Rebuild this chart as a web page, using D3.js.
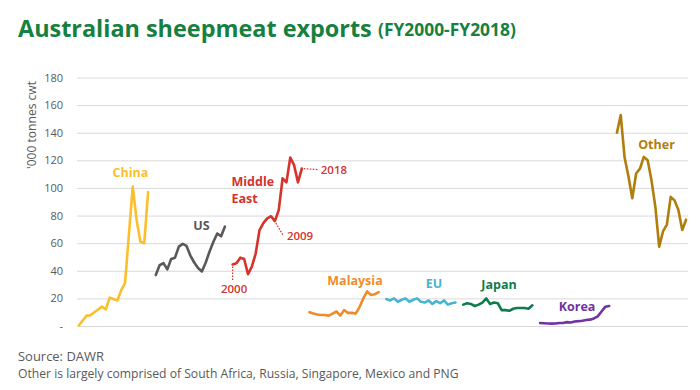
<!DOCTYPE html>
<html><head><meta charset="utf-8">
<script src="https://cdn.jsdelivr.net/npm/d3@7"></script>
<style>body{margin:0;background:#fff}svg{display:block}</style>
</head><body><svg id="c" width="700" height="390"></svg>
<script>
// ---- data ----
const years = ["FY2000","FY2001","FY2002","FY2003","FY2004","FY2005","FY2006","FY2007","FY2008","FY2009",
               "FY2010","FY2011","FY2012","FY2013","FY2014","FY2015","FY2016","FY2017","FY2018"];
const seriesNames = ["China","US","Middle East","Malaysia","EU","Japan","Korea","Other"];
const seriesColors = ["#FDBE2B","#595959","#D5332B","#EE8C2C","#47B4D1","#0E7D4C","#7033A3","#B07E0C"];
const china      = [0.5, 4, 7.5, 7.8, 10, 12, 14, 12, 20.5, 19.5, 18.5, 26, 31, 66, 101, 77, 61, 60, 97];
const us         = [37, 44, 45.5, 41, 48.5, 49.5, 57.5, 59.5, 58, 51, 46, 42, 39.5, 46, 54, 61, 67, 65, 72];
const middleEast = [44.6, 45.5, 49.5, 48.5, 37.5, 43, 52.5, 69.5, 74.5, 78, 79.5, 76, 84, 107, 104, 122, 116.5, 104, 114];
const malaysia   = [10, 9, 8.3, 8, 8, 7.5, 9, 10.5, 7.5, 11.5, 9.5, 9.5, 9, 13.5, 20, 25, 22.5, 23, 24.5];
const eu         = [19.5, 18.5, 20, 17.5, 19, 20, 17.5, 19, 20, 17.5, 17, 18.5, 16, 18, 16.5, 18.5, 15.5, 16.5, 17];
const japan      = [15.5, 16.5, 16, 14.5, 15.5, 17, 20, 16, 17, 16.5, 11.5, 11.5, 11, 12.5, 13, 13, 13, 12.5, 15];
const korea      = [2.2, 2, 1.8, 1.7, 1.8, 2.2, 2.2, 2.8, 2.5, 3.3, 3.5, 3.8, 4.3, 4.6, 5.5, 7, 10.5, 14, 14.5];
const other      = [140, 152.8, 122, 108.5, 92.5, 110.5, 114, 122.5, 120, 105.5, 86.5, 57.5, 68.5, 73.5, 93.5, 91, 84, 69.5, 77];
const yTicks = [0, 20, 40, 60, 80, 100, 120, 140, 160, 180];

const seriesValues = [china, us, middleEast, malaysia, eu, japan, korea, other];

// ---- categories: each series gets its own run of years, separated by one empty slot ----
const catKeys = [];
seriesNames.forEach((s, k) => {
  years.forEach(yr => catKeys.push(s + "|" + yr));
  if (k < seriesNames.length - 1) catKeys.push("gap" + k);
});

const svg = d3.select("#c");
const plotL = 77, plotR = 688, plotT = 77.5, plotB = 326;
const x = d3.scaleBand().domain(catKeys).range([plotL, plotR]).padding(0);
const y = d3.scaleLinear().domain([0, 180]).range([plotB, plotT]);
const cx = key => x(key) + x.bandwidth() / 2;
const font = "'Open Sans', sans-serif";

// shrink/grow a text's font size so its natural width matches a target width
function fitWidth(sel, w) {
  const n = sel.node().getComputedTextLength();
  const fs = parseFloat(sel.style("font-size"));
  sel.style("font-size", (fs * w / n).toFixed(2) + "px");
  return sel;
}

// gridlines
svg.append("g").attr("transform", `translate(${plotL},0)`)
  .call(d3.axisLeft(y).tickValues(yTicks).tickSize(-(plotR - plotL)).tickFormat(""))
  .call(g => g.select(".domain").remove())
  .call(g => g.selectAll("line").attr("stroke", "#d9d9d9").attr("stroke-width", 1));

// tick labels
svg.append("g").attr("transform", `translate(${plotL},0)`)
  .call(d3.axisLeft(y).tickValues(yTicks).tickSize(0).tickPadding(14)
        .tickFormat(d => d === 0 ? "-" : d))
  .call(g => g.select(".domain").remove())
  .call(g => g.selectAll("text").attr("fill", "#595959")
        .style("font-family", font).style("font-size", "11px"));

// y title
fitWidth(svg.append("text").attr("transform", "translate(36,125) rotate(-90)")
  .attr("text-anchor", "middle").attr("fill", "#595959")
  .style("font-family", font).style("font-size", "13px")
  .text("'000 tonnes cwt"), 88);

// lines
const line = d3.line().x(d => cx(d.key)).y(d => y(d.v));
seriesNames.forEach((s, k) => {
  const pts = seriesValues[k].map((v, i) => ({key: s + "|" + years[i], v}));
  svg.append("path").datum(pts).attr("d", line)
    .attr("fill", "none").attr("stroke", seriesColors[k])
    .attr("stroke-width", 2.6).attr("stroke-linejoin", "round").attr("stroke-linecap", "round");
});

// series labels
const seriesLabels = [
  {t: "China", x: 130.5, y: 177, c: 0},
  {t: "US", x: 201.5, y: 230, c: 1},
  {t: "Malaysia", x: 355, y: 284.5, c: 3},
  {t: "EU", x: 434, y: 288, c: 4},
  {t: "Japan", x: 499, y: 288.5, c: 5},
  {t: "Korea", x: 577, y: 311, c: 6},
  {t: "Other", x: 656.5, y: 149, c: 7}
];
seriesLabels.forEach(l => {
  svg.append("text").attr("x", l.x).attr("y", l.y).attr("text-anchor", "middle")
    .attr("fill", seriesColors[l.c]).style("font-family", font)
    .style("font-size", "12.5px").style("font-weight", "700").text(l.t);
});
svg.append("text").attr("x", 231.5).attr("y", 186).attr("fill", seriesColors[2])
  .style("font-family", font).style("font-size", "12.5px").style("font-weight", "700").text("Middle");
svg.append("text").attr("x", 231.5).attr("y", 202.5).attr("fill", seriesColors[2])
  .style("font-family", font).style("font-size", "12.5px").style("font-weight", "700").text("East");

// year annotations on Middle East
const me = k => ({x: cx("Middle East|" + years[k]), y: y(middleEast[k])});
const red = seriesColors[2];
const dotted = (x1, y1, x2, y2) => svg.append("line").attr("x1", x1).attr("y1", y1).attr("x2", x2).attr("y2", y2)
  .attr("stroke", red).attr("stroke-width", 1.3).attr("stroke-dasharray", "1.5,1.5");
const annot = (t, xx, yy, anchor) => svg.append("text").attr("x", xx).attr("y", yy).attr("text-anchor", anchor)
  .attr("fill", red).style("font-family", font).style("font-size", "11.5px").style("font-weight", "600").text(t);
const p0 = me(0);
dotted(p0.x, p0.y + 2, p0.x, p0.y + 17);
annot("2000", p0.x + 1.5, p0.y + 29, "middle");
const p9 = me(11);
dotted(p9.x + 1, p9.y + 2, p9.x + 8, p9.y + 14);
annot("2009", p9.x + 12, p9.y + 19, "start");
const p18 = me(18);
dotted(p18.x + 2, p18.y, p18.x + 16, p18.y + 1);
annot("2018", p18.x + 19, p18.y + 5, "start");

// title
fitWidth(svg.append("text").attr("x", 18).attr("y", 37).attr("fill", "#15803F")
  .style("font-family", font).style("font-size", "27px").style("font-weight", "700")
  .text("Australian sheepmeat exports"), 354);
fitWidth(svg.append("text").attr("x", 378).attr("y", 36).attr("fill", "#15803F")
  .style("font-family", font).style("font-size", "18px").style("font-weight", "700")
  .text("(FY2000-FY2018)"), 138);

// footnotes
fitWidth(svg.append("text").attr("x", 18).attr("y", 361).attr("fill", "#595959")
  .style("font-family", font).style("font-size", "13px").text("Source: DAWR"), 86);
fitWidth(svg.append("text").attr("x", 18).attr("y", 378).attr("fill", "#595959")
  .style("font-family", font).style("font-size", "13px")
  .text("Other is largely comprised of South Africa, Russia, Singapore, Mexico and PNG"), 441);
</script></body></html>
